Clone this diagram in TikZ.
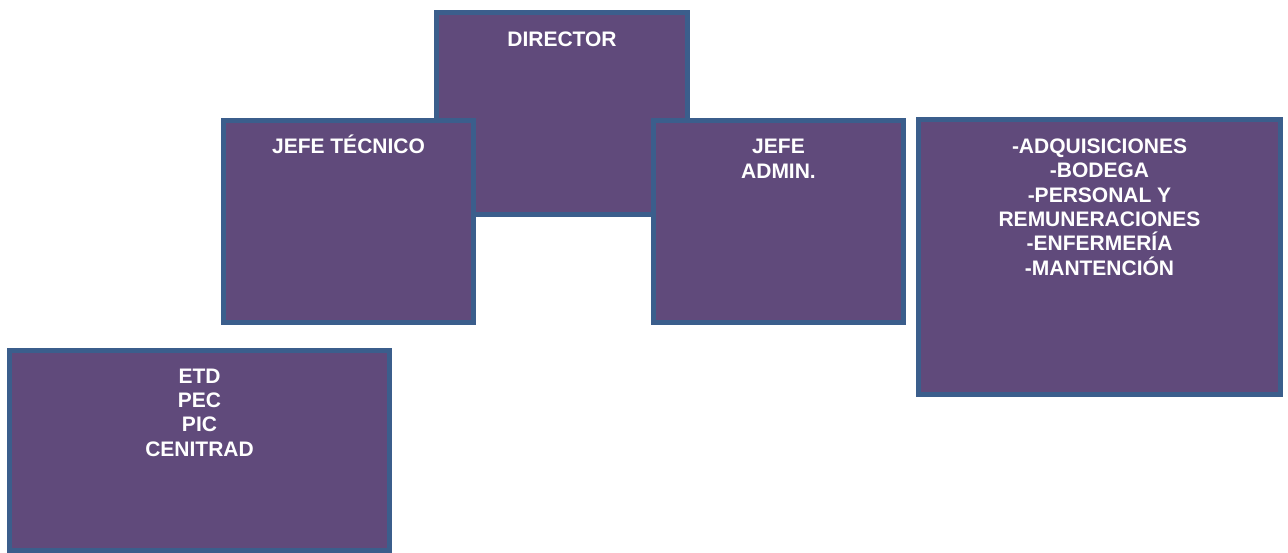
\documentclass[tikz,border=0pt]{standalone}
\usepackage{fontspec}
\setmainfont{Liberation Sans}
\usetikzlibrary{positioning}

\definecolor{boxfill}{HTML}{604A7B}
\definecolor{boxline}{HTML}{3B5E8C}

\tikzset{
    box/.style={ draw=boxline, fill=boxfill, line width=5pt, inner sep=0pt,},
    boxtxt/.style={ anchor=north, align=center, text=white, inner sep=0pt,
                    font=\fontsize{21}{24.4}\selectfont\bfseries},
  }

\begin{document}
\begin{tikzpicture}[x=1pt, y=-1pt]
\useasboundingbox (0,0) rectangle (1288,552);

% top box first, the two heads overlap it
  \node[box, minimum width=251pt, minimum height=202pt] (director) at (562,113.5) {};
  \node[boxtxt] (directortxt) at ([yshift=-22pt]director.north) {DIRECTOR};

% technical side
  \node[box, minimum width=250pt, minimum height=202pt] (jefetec) at (348.5,221.5) {};
  \node[boxtxt, anchor=base] (jefetectxt) at ([yshift=-35pt]jefetec.north) {JEFE TÉCNICO};

% administrative side
  \node[box, minimum width=250pt, minimum height=202pt] (jefeadm) at (778.5,221.5) {};
  \node[boxtxt] (jefeadmtxt) at ([yshift=-21pt]jefeadm.north) {JEFE\\ADMIN.};

% units under admin
  \node[box, minimum width=362pt, minimum height=275pt] (areas) at (1099.5,257) {};
  \node[boxtxt] (areastxt) at ([yshift=-21.5pt]areas.north)
     {-ADQUISICIONES\\-BODEGA\\-PERSONAL Y\\REMUNERACIONES\\-ENFERMERÍA\\-MANTENCIÓN};

% programs
  \node[box, minimum width=380pt, minimum height=200pt] (programas) at (199.5,450) {};
  \node[boxtxt] (programastxt) at ([yshift=-21pt]programas.north) {ETD\\PEC\\PIC\\CENITRAD};

\end{tikzpicture}
\end{document}
